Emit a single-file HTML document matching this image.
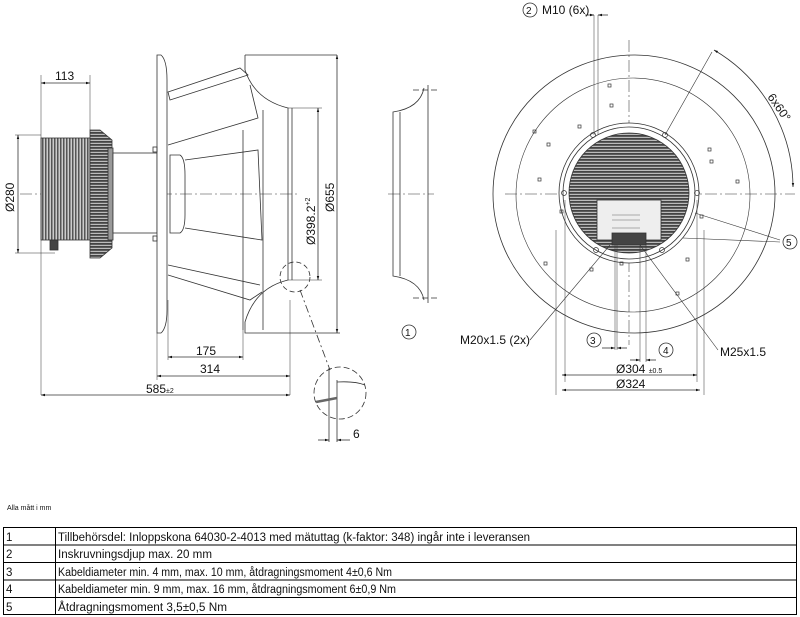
<!DOCTYPE html>
<html><head><meta charset="utf-8"><style>
html,body{margin:0;padding:0;background:#fff;width:800px;height:617px;overflow:hidden}
svg{display:block}
text{font-family:"Liberation Sans",sans-serif;fill:#111}
</style></head><body>
<svg width="800" height="617" viewBox="0 0 800 617" xmlns="http://www.w3.org/2000/svg">
<defs>
<marker id="a" viewBox="0 0 10 10" refX="10" refY="5" markerWidth="7" markerHeight="5" orient="auto-start-reverse"><path d="M0,2 L10,5 L0,8z" fill="#111"/></marker>
<pattern id="hl" width="4" height="3" patternUnits="userSpaceOnUse"><rect width="4" height="3" fill="#bbb"/><rect y="0" width="4" height="1.8" fill="#444"/></pattern>
<pattern id="vl" width="3" height="4" patternUnits="userSpaceOnUse"><rect width="3" height="4" fill="#ccc"/><rect width="1.5" height="4" fill="#555"/></pattern>
</defs>
<g stroke="#333" stroke-width="0.8" fill="none">
<line x1="20" y1="194" x2="300" y2="194" stroke-dasharray="12 3 2 3" stroke="#777"/>
<line x1="388" y1="194" x2="434" y2="194" stroke-dasharray="12 3 2 3" stroke="#777"/>
<rect x="41" y="138" width="49" height="102" fill="url(#vl)" stroke="#333"/>
<path d="M90,130 L100,130 L112,140 L112,248 L100,258 L90,258Z" fill="url(#hl)"/>
<rect x="108" y="148" width="5" height="92" fill="#999"/>
<rect x="113" y="153" width="44" height="80" fill="#fff"/>
<rect x="50" y="240" width="8" height="10" fill="#444"/>
<path d="M157,55 L161,55 Q167,60 167,80 L167,310 Q167,328 161,333 L157,333Z" fill="#fff"/>
<rect x="153" y="147" width="4" height="5"/><rect x="153" y="236" width="4" height="5"/>
<path d="M170,155 L180,155 Q185,158 185,175 L185,215 Q185,230 180,233 L170,233Z"/>
<path d="M185,160 L258,150 L262,240 L185,228"/>
<path d="M168,92 L240,68 L248,75 L170,100Z"/>
<path d="M168,145 L258,118 L250,85"/>
<path d="M168,265 L260,285"/><path d="M168,275 L250,300 L262,292"/>
<line x1="243" y1="130" x2="243" y2="330"/>
<line x1="263" y1="110" x2="263" y2="330"/>
<path d="M245,55 L337,55"/><path d="M245,55 L245,70 Q255,100 288,108 L288,280 Q255,288 245,322 L245,333 L340,333"/>
<line x1="292" y1="108" x2="292" y2="280"/>
<circle cx="295" cy="277" r="15" stroke-dasharray="5 3"/>
<line x1="300" y1="290" x2="330" y2="370" stroke-dasharray="8 3 2 3"/>
<circle cx="340" cy="393" r="26" stroke-dasharray="6 3"/>
<line x1="329" y1="368" x2="329" y2="442"/><line x1="337" y1="380" x2="337" y2="442"/>
<path d="M337,382 Q355,381 365,385"/>
<path d="M316,402 L337,398" stroke-width="2.5" stroke="#666"/>
<path d="M428,85 L428,303"/><path d="M424,88 Q420,108 393,112 L393,276 Q420,280 424,300"/>
<line x1="400" y1="112" x2="400" y2="276"/>
<line x1="413" y1="90" x2="438" y2="90" stroke-dasharray="6 3"/><line x1="413" y1="298" x2="438" y2="298" stroke-dasharray="6 3"/>
<circle cx="409" cy="332" r="7"/>
<line x1="41" y1="75" x2="41" y2="395" stroke-width="0.5"/>
<line x1="90" y1="75" x2="90" y2="130" stroke-width="0.5"/>
<line x1="41" y1="83" x2="90" y2="83" marker-start="url(#a)" marker-end="url(#a)"/>
<line x1="15" y1="135" x2="41" y2="135" stroke-width="0.5"/><line x1="15" y1="253" x2="55" y2="253" stroke-width="0.5"/>
<line x1="18" y1="135" x2="18" y2="253" marker-start="url(#a)" marker-end="url(#a)"/>
<line x1="168" y1="300" x2="168" y2="360" stroke-width="0.5"/><line x1="157" y1="333" x2="157" y2="380" stroke-width="0.5"/>
<line x1="243" y1="330" x2="243" y2="360" stroke-width="0.5"/><line x1="290" y1="300" x2="290" y2="395" stroke-width="0.5"/>
<line x1="168" y1="357" x2="243" y2="357" marker-start="url(#a)" marker-end="url(#a)"/>
<line x1="157" y1="376" x2="290" y2="376" marker-start="url(#a)" marker-end="url(#a)"/>
<line x1="41" y1="395" x2="290" y2="395" marker-start="url(#a)" marker-end="url(#a)"/>
<line x1="288" y1="108" x2="322" y2="108" stroke-width="0.5"/><line x1="288" y1="280" x2="322" y2="280" stroke-width="0.5"/>
<line x1="318" y1="108" x2="318" y2="280" marker-start="url(#a)" marker-end="url(#a)"/>
<line x1="337" y1="55" x2="337" y2="333" marker-start="url(#a)" marker-end="url(#a)"/>
<line x1="318" y1="440" x2="329" y2="440" marker-end="url(#a)"/><line x1="350" y1="440" x2="337" y2="440" marker-end="url(#a)"/>
<line x1="505" y1="194" x2="795" y2="194" stroke-dasharray="12 3 2 3" stroke="#777"/>
<line x1="629" y1="40" x2="629" y2="345" stroke-dasharray="12 3 2 3" stroke="#777"/>
<ellipse cx="634" cy="194" rx="141" ry="139"/>
<circle cx="633" cy="195" r="117" stroke-width="0.6"/>
<circle cx="629" cy="193" r="70" fill="#fff"/>
<circle cx="629" cy="193" r="66"/>
<circle cx="629" cy="193" r="60" fill="url(#hl)"/>
<rect x="597" y="200" width="64" height="40" fill="#eee"/>
<g stroke="#666" stroke-width="0.6"><line x1="612" y1="215" x2="640" y2="215"/><line x1="612" y1="220" x2="640" y2="220"/><line x1="612" y1="228" x2="640" y2="228"/></g>
<rect x="612" y="233" width="34" height="12" fill="#444"/>
<g stroke-width="0.7">
<circle cx="593" cy="135" r="2.5"/><circle cx="665" cy="135" r="2.5"/><circle cx="564" cy="193" r="2.5"/><circle cx="697" cy="193" r="2.5"/><circle cx="596" cy="250" r="2.5"/><circle cx="662" cy="250" r="2.5"/>
<rect x="608" y="84" width="3" height="3"/><rect x="610" y="104" width="3" height="3"/><rect x="533" y="130" width="3" height="3"/><rect x="708" y="148" width="3" height="3"/><rect x="538" y="178" width="3" height="3"/><rect x="736" y="180" width="3" height="3"/><rect x="560" y="210" width="3" height="3"/><rect x="700" y="215" width="3" height="3"/><rect x="544" y="262" width="3" height="3"/><rect x="590" y="268" width="3" height="3"/><rect x="620" y="262" width="3" height="3"/><rect x="686" y="258" width="3" height="3"/><rect x="676" y="292" width="3" height="3"/><rect x="547" y="143" width="3" height="3"/><rect x="710" y="160" width="3" height="3"/><rect x="578" y="125" width="3" height="3"/>
</g>
<line x1="594" y1="15" x2="594" y2="135" stroke-width="0.5"/><line x1="598" y1="15" x2="598" y2="135" stroke-width="0.5"/>
<line x1="585" y1="15" x2="594" y2="15" marker-end="url(#a)"/><line x1="608" y1="15" x2="598" y2="15" marker-end="url(#a)"/>
<line x1="665" y1="135" x2="712" y2="52" stroke-width="0.6"/>
<path d="M714,50 A160,160 0 0 1 793,187" marker-start="url(#a)" marker-end="url(#a)"/>
<line x1="565" y1="200" x2="565" y2="382" stroke-width="0.5"/><line x1="697" y1="200" x2="697" y2="382" stroke-width="0.5"/>
<line x1="562" y1="375" x2="697" y2="375" marker-start="url(#a)" marker-end="url(#a)"/>
<line x1="562" y1="390" x2="700" y2="390" marker-start="url(#a)" marker-end="url(#a)"/>
<line x1="556" y1="230" x2="556" y2="395" stroke-width="0.5"/><line x1="704" y1="230" x2="704" y2="395" stroke-width="0.5"/>
<line x1="615" y1="245" x2="615" y2="350" stroke-width="0.5"/><line x1="617" y1="245" x2="617" y2="350" stroke-width="0.5"/>
<line x1="640" y1="245" x2="640" y2="362" stroke-width="0.5"/><line x1="646" y1="245" x2="646" y2="362" stroke-width="0.5"/>
<line x1="602" y1="348" x2="615" y2="348" marker-end="url(#a)"/><line x1="627" y1="348" x2="617" y2="348" marker-end="url(#a)"/>
<line x1="630" y1="360" x2="640" y2="360" marker-end="url(#a)"/><line x1="656" y1="360" x2="646" y2="360" marker-end="url(#a)"/>
<line x1="530" y1="340" x2="610" y2="245" stroke-width="0.6"/>
<line x1="718" y1="350" x2="640" y2="245" stroke-width="0.6"/>
<line x1="695" y1="213" x2="780" y2="240" stroke-width="0.6"/><line x1="683" y1="238" x2="780" y2="242" stroke-width="0.6"/>
<circle cx="530" cy="10" r="7"/><circle cx="790" cy="242" r="7"/><circle cx="594" cy="340" r="7"/><circle cx="666" cy="350" r="7"/>
</g>
<g font-size="12">
<text x="55" y="80">113</text>
<text transform="translate(14,212) rotate(-90)">Ø280</text>
<text x="196" y="355">175</text>
<text x="200" y="373">314</text>
<text x="146" y="393">585<tspan font-size="7">±2</tspan></text>
<text transform="translate(315,245) rotate(-90)">Ø398.2<tspan font-size="7" dy="-5">+2</tspan></text>
<text transform="translate(334,212) rotate(-90)">Ø655</text>
<text x="353" y="438">6</text>
<text x="405" y="336" font-size="10">1</text>
<text x="526" y="14" font-size="10">2</text>
<text x="542" y="14">M10 (6x)</text>
<text transform="translate(767,97) rotate(55)">6x60°</text>
<text x="786" y="246" font-size="10">5</text>
<text x="460" y="344">M20x1.5 (2x)</text>
<text x="590" y="344" font-size="10">3</text>
<text x="663" y="354" font-size="10">4</text>
<text x="720" y="356">M25x1.5</text>
<text x="616" y="373">Ø304 <tspan font-size="7">±0.5</tspan></text>
<text x="616" y="388">Ø324</text>
</g>
<text x="7" y="510" font-size="7">Alla mått i mm</text>
<g stroke="#000" stroke-width="1" fill="none">
<rect x="3.5" y="527.5" width="793" height="87"/>
<line x1="55.5" y1="527" x2="55.5" y2="615"/>
<line x1="3" y1="545" x2="797" y2="545"/><line x1="3" y1="562.5" x2="797" y2="562.5"/><line x1="3" y1="580" x2="797" y2="580"/><line x1="3" y1="597.5" x2="797" y2="597.5"/>
</g>
<g font-size="11.5">
<text x="6" y="541">1</text><text x="58" y="541" textLength="472" lengthAdjust="spacingAndGlyphs">Tillbehörsdel: Inloppskona 64030-2-4013 med mätuttag (k-faktor: 348) ingår inte i leveransen</text>
<text x="6" y="558">2</text><text x="58" y="558" textLength="154" lengthAdjust="spacingAndGlyphs">Inskruvningsdjup max. 20 mm</text>
<text x="6" y="576">3</text><text x="58" y="576" textLength="334" lengthAdjust="spacingAndGlyphs">Kabeldiameter min. 4 mm, max. 10 mm, åtdragningsmoment 4±0,6 Nm</text>
<text x="6" y="593">4</text><text x="58" y="593" textLength="338" lengthAdjust="spacingAndGlyphs">Kabeldiameter min. 9 mm, max. 16 mm, åtdragningsmoment 6±0,9 Nm</text>
<text x="6" y="611">5</text><text x="58" y="611" textLength="169" lengthAdjust="spacingAndGlyphs">Åtdragningsmoment 3,5±0,5 Nm</text>
</g>
</svg>
</body></html>
